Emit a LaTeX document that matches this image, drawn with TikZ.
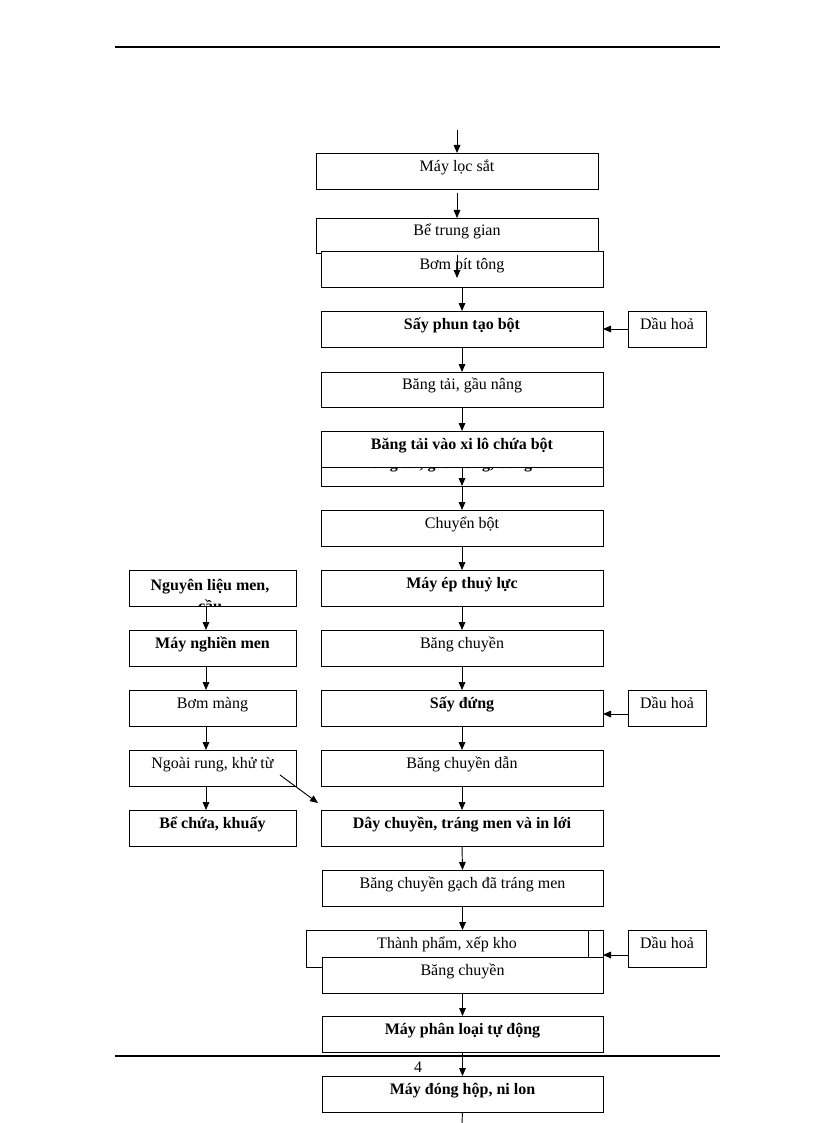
\documentclass[tikz,border=0pt]{standalone}
\usepackage{fontspec}
\setmainfont{Liberation Serif}
\usetikzlibrary{arrows.meta}
\tikzset{
  box/.style={draw=black, line width=0.7pt, fill=white, inner sep=0pt, outer sep=0pt, rectangle},
  lbl/.style={inner sep=0pt, text height=8pt, text depth=2.5pt, font=\fontsize{12}{14}\selectfont},
  bold/.style={font=\fontsize{12}{14}\selectfont\bfseries},
  arr/.style={draw=black, line width=0.7pt, -{Triangle[length=6pt,width=5pt]}},
  rule/.style={draw=black, line width=0.8pt}
}
\newcommand{\bx}[7]{%
  \pgfmathsetmacro{\myBW}{(#5-#3)*0.75}%
  \pgfmathsetmacro{\myBH}{(#6-#4)*0.75}%
  \node[box, minimum width=\myBW pt, minimum height=\myBH pt] (#2) at ({(#3+#5)/2},{(#4+#6)/2}) {};%
  \node[lbl,#1] (#2-t) at ([yshift=2.4pt]#2.center) {#7};%
}
\begin{document}
\begin{tikzpicture}[x=0.75pt,y=-0.75pt]
\useasboundingbox (0,0) rectangle (816,1123);
% page rules
\coordinate (hl) at (115,47); \coordinate (hr) at (720,47);
\coordinate (fl) at (115,1056); \coordinate (fr) at (720,1056);
\draw[rule] (hl) -- (hr);
\draw[rule] (fl) -- (fr);
\node[inner sep=0pt, font=\fontsize{12}{14}\selectfont] (pg) at (418,1067) {4};

% helper coordinates
\coordinate (xl) at (206,0);
\coordinate (xt) at (457,0);
\coordinate (y714) at (0,714);
\coordinate (y955) at (0,955);
\coordinate (start) at (457,130);
\coordinate (stray) at (457,278);
\coordinate (dg1) at (280,775);
\coordinate (dg2) at (318,803);
\coordinate (endp) at (462,1123);

% right column
\bx{}{mls}{316}{153}{598}{189}{Máy lọc sắt}
\bx{}{btg}{316}{218}{598}{253}{Bể trung gian}
\bx{}{bom}{321}{251}{603}{287}{Bơm pít tông}
\bx{bold}{sp}{321}{311}{603}{347}{Sấy phun tạo bột}
\bx{}{dh1}{628}{311}{706}{347}{Dầu hoả}
\bx{}{btgn}{321}{372}{603}{407}{Băng tải, gầu nâng}
\node[box, minimum width=211.5pt, minimum height=41.25pt] (bt2) at (462,458.5) {};
\node[inner sep=0pt, anchor=base, font=\fontsize{12}{14}\selectfont\bfseries] (bt2-t) at (458,468.5) {Băng tải, gầu nâng, băng tải};
\bx{bold}{btx}{321}{431}{603}{467}{Băng tải vào xi lô chứa bột}
\bx{}{cb}{321}{510}{603}{546}{Chuyển bột}
\bx{bold}{mep}{321}{570}{603}{606}{Máy ép thuỷ lực}
\bx{}{bc1}{321}{630}{603}{666}{Băng chuyền}
\bx{bold}{sd}{321}{690}{603}{726}{Sấy đứng}
\bx{}{dh2}{628}{690}{706}{726}{Dầu hoả}
\bx{}{bcd}{321}{750}{603}{786}{Băng chuyền dẫn}
\bx{bold}{dc}{321}{810}{603}{846}{Dây chuyền, tráng men và in lới}
\bx{}{bcg}{322}{870}{603}{906}{Băng chuyền gạch đã tráng men}
\node[draw=black, line width=0.7pt, inner sep=0pt, outer sep=0pt, minimum width=210.75pt, minimum height=20.25pt] (boxa) at (462.5,943.5) {};
\bx{}{tp}{306}{930}{588}{967}{Thành phẩm, xếp kho}
\bx{}{bc2}{322}{957}{603}{993}{Băng chuyền}
\bx{}{dh3}{628}{930}{706}{967}{Dầu hoả}
\bx{bold}{mpl}{322}{1016}{603}{1052}{Máy phân loại tự động}
\bx{bold}{mdh}{322}{1076}{603}{1112}{Máy đóng hộp, ni lon}

% left column
\node[box, minimum width=125.25pt, minimum height=27pt] (nl) at (212.5,588) {};
\begin{scope}
\clip (129,570) rectangle (296,606);
\node[inner sep=0pt, anchor=base, font=\fontsize{12}{14}\selectfont\bfseries] (nl-t) at (210,590) {Nguyên liệu men,};
\node[inner sep=0pt, anchor=base, font=\fontsize{12}{14}\selectfont\bfseries] (nl-t2) at (210,611) {cầu};
\end{scope}
\bx{bold}{mn}{129}{630}{296}{666}{Máy nghiền men}
\bx{}{bm}{129}{690}{296}{726}{Bơm màng}
\bx{}{ngr}{129}{750}{296}{786}{Ngoài rung, khử từ}
\bx{bold}{bck}{129}{810}{296}{846}{Bể chứa, khuấy}

% connectors right column
\draw[arr] (start) -- (mls.north);
\draw[arr] (mls.south |- 0,193) -- (btg.north);
\draw[arr] (xt |- 0,255) -- (stray);
\draw[arr] (bom.south) -- (sp.north);
\draw[arr] (dh1.west) -- (sp.east);
\draw[arr] (sp.south) -- (btgn.north);
\draw[arr] (btgn.south) -- (btx.north);
\draw[arr] (btx.south) -- (bt2.south);
\draw[arr] (bt2.south) -- (cb.north);
\draw[arr] (cb.south) -- (mep.north);
\draw[arr] (mep.south) -- (bc1.north);
\draw[arr] (bc1.south) -- (sd.north);
\draw[arr] (dh2.west |- y714) -- (sd.east |- y714);
\draw[arr] (sd.south) -- (bcd.north);
\draw[arr] (bcd.south) -- (dc.north);
\draw[arr] (dc.south) -- (bcg.north);
\draw[arr] (bcg.south) -- (boxa.north);
\draw[arr] (dh3.west |- y955) -- (bc2.east |- y955);
\draw[arr] (bc2.south) -- (mpl.north);
\draw[arr] (mpl.south) -- (mdh.north);
\draw[draw=black, line width=0.7pt] (mdh.south) -- (endp);

% connectors left column
\draw[arr] (nl.south -| xl) -- (mn.north -| xl);
\draw[arr] (mn.south -| xl) -- (bm.north -| xl);
\draw[arr] (bm.south -| xl) -- (ngr.north -| xl);
\draw[arr] (ngr.south -| xl) -- (bck.north -| xl);
\draw[draw=black, line width=0.7pt, -{Triangle[length=6pt,width=5pt]}] (dg1) -- (dg2);
\end{tikzpicture}
\end{document}
